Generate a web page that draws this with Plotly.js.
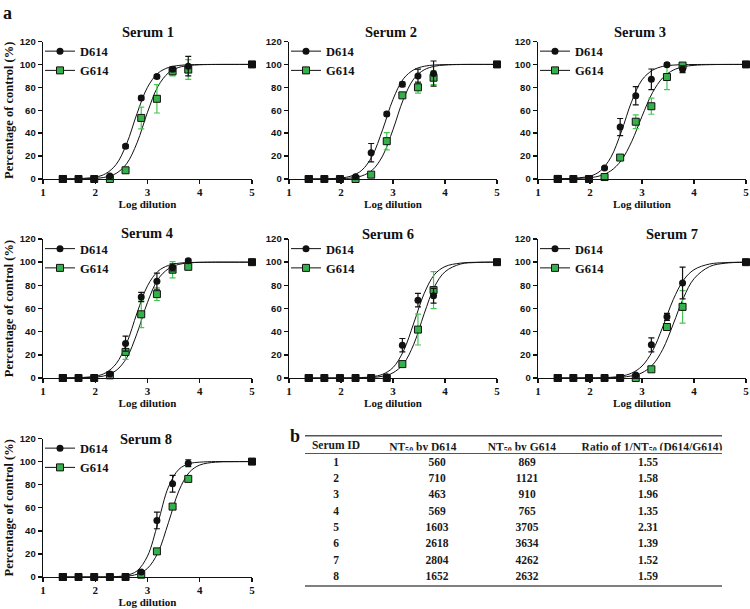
<!DOCTYPE html>
<html><head><meta charset="utf-8">
<script src="https://cdn.plot.ly/plotly-3.0.1.min.js"></script>
<style>html,body{margin:0;padding:0;background:#fff}#chart{width:750px;height:609px}</style>
</head><body><div id="chart"></div>
<script>
// ---------------- DATA ----------------
const SERUM_NAMES = ['Serum 1','Serum 2','Serum 3','Serum 4','Serum 6','Serum 7','Serum 8'];
const SERIES_NAMES = ['D614','G614'];
const LOG_DILUTION = [1.38,1.68,1.98,2.28,2.58,2.88,3.18,3.48,3.78,5];
const FIT_X = [1.38,2.0,2.2,2.4,2.6,2.8,3.0,3.2,3.4,3.6,3.8,4.0,4.3,4.6,5.0];

const S1_D614 = [0,0,0,2.6,28.5,70.8,89.4,95.8,98.5,100];
const S1_D614_ERR = [0,0,0,0.5,1.5,1.5,1.5,2,8.5,0];
const S1_G614 = [0,0,0,0,7.6,53.3,70,94,95.5,100];
const S1_G614_ERR = [0,0,0,0,1,9.5,12.4,4,8.6,0];
const S1_D614_FIT = [0.05,1.6,4.7,12.7,30.6,57.2,80.1,92.3,97.3,99.1,99.7,99.9,100,100,100];
const S1_G614_FIT = [0.02,0.6,1.7,4.9,13.3,31.6,58.3,80.8,92.6,97.4,99.1,99.7,99.95,100,100];

const S2_D614 = [0,0,0,2,23,56.8,82.6,89.9,92,100];
const S2_D614_ERR = [0,0,0,0.5,8,1.5,2,6,11,0];
const S2_G614 = [0,0,0,0,3.8,33,73,80,88.4,100];
const S2_G614_ERR = [0,0,0,0,0.8,7.5,2,5,6,0];
const S2_D614_FIT = [0,0.9,2.7,7.6,20.0,43.0,69.5,87.4,95.3,98.4,99.5,99.8,100,100,100];
const S2_G614_FIT = [0,0.3,0.9,2.7,7.7,20.1,43.1,69.6,87.4,95.3,98.4,99.5,99.9,100,100];

const S3_D614 = [0,0,0,9.5,45.3,72.7,87,99.8,95.8,100];
const S3_D614_ERR = [0,0,0,1,7.5,8,9,1.5,3,0];
const S3_G614 = [0,0,0,1.7,18.7,50,63.5,89,99,100];
const S3_G614_ERR = [0,0,0,0.5,1,6,7,11,2,0];
const S3_D614_FIT = [0.1,2.5,7.1,18.8,40.9,67.5,86.5,94.8,98.3,99.4,99.8,99.9,100,100,100];
const S3_G614_FIT = [0.07,1.2,2.9,7.1,16.1,32.5,54.7,75.2,88.4,95.0,98.0,99.2,99.8,99.95,100];

const S4_D614 = [0,0,0,3.5,29.7,70,83.6,95.5,101.2,100];
const S4_D614_ERR = [0,0,0,1,6.5,4,7,3,1.5,0];
const S4_G614 = [0,0,0,2.3,22.5,55,72.4,93.5,96,100];
const S4_G614_ERR = [0,0,0,1,6.5,11.5,5.5,7,2,0];
const S4_D614_FIT = [0.05,1.5,4.5,12.3,29.8,56.2,79.6,92.1,97.2,99.1,99.7,99.9,100,100,100];
const S4_G614_FIT = [0,0.8,2.2,6.5,17.2,38.6,65.3,85.2,94.3,98.1,99.4,99.8,100,100,100];

const S6_D614 = [0,0,0,0,0,1,28.3,67.2,71,100];
const S6_D614_ERR = [0,0,0,0,0,0.5,5.8,5.8,6.3,0];
const S6_G614 = [0,0,0,0,0,0,12,41.8,75.9,100];
const S6_G614_ERR = [0,0,0,0,0,0,1.5,13.3,16,0];
const S6_D614_FIT = [0,0,0.1,0.4,1.1,3.2,9.0,23.1,47.5,73.0,89.4,96.2,99.2,99.9,100];
const S6_G614_FIT = [0,0.02,0.05,0.16,0.5,1.5,4.5,12.1,29.2,55.5,79.0,91.7,98.4,99.7,100];

const S7_D614 = [0,0,0,0,0,2.6,28.6,52.8,82,100];
const S7_D614_ERR = [0,0,0,0,0,0.5,6,3,13.7,0];
const S7_G614 = [0,0,0,0,0,0,7.5,44,61.4,100];
const S7_G614_ERR = [0,0,0,0,0,0,1,3,14,0];
const S7_D614_FIT = [0,0.1,0.2,0.6,1.6,4.2,10.3,23.1,44.2,67.6,84.6,93.5,98.4,99.6,100];
const S7_G614_FIT = [0,0.04,0.1,0.3,0.7,1.8,4.5,11.1,24.8,46.4,69.4,85.7,96.2,99.1,99.9];

const S8_D614 = [0,0,0,0,0,4.3,49,80.8,98.6,100];
const S8_D614_ERR = [0,0,0,0,0,1,7.2,7.2,3,0];
const S8_G614 = [0,0,0,0,0,2,22.2,61,85,100];
const S8_G614_ERR = [0,0,0,0,0,0.5,1.5,2,2,0];
const S8_D614_FIT = [0,0.02,0.09,0.35,1.4,5.3,18.1,46.9,77.9,93.3,98.2,99.5,100,100,100];
const S8_G614_FIT = [0,0.05,0.05,0.2,0.7,2.4,7.5,21.1,47.0,74.6,90.7,97.0,99.5,99.9,100];

const X_TICKS = [1,2,3,4,5];
const Y_TICKS = [0,20,40,60,80,100,120];
const X_TITLE = 'Log dilution';
const Y_TITLE = 'Percentage of control (%)';

const TABLE_HEADER = ['Serum ID','NT<sub>50</sub> by D614','NT<sub>50</sub> by G614','Ratio of 1/NT<sub>50</sub> (D614/G614)'];
const TABLE_SERUM_ID = ['1','2','3','4','5','6','7','8'];
const TABLE_NT50_D614 = ['560','710','463','569','1603','2618','2804','1652'];
const TABLE_NT50_G614 = ['869','1121','910','765','3705','3634','4262','2632'];
const TABLE_RATIO = ['1.55','1.58','1.96','1.35','2.31','1.39','1.52','1.59'];

// ---------------- LAYOUT / STYLE ----------------
const W = 750, H = 609;
const BLACK = '#111111';
const GREEN = '#35b04a';
const GREEN_ERR = '#45c652';
const SERIF = 'Liberation Serif';
const SANS = 'Liberation Sans';

const PANELS = [
  {d:S1_D614, de:S1_D614_ERR, g:S1_G614, ge:S1_G614_ERR, df:S1_D614_FIT, gf:S1_G614_FIT},
  {d:S2_D614, de:S2_D614_ERR, g:S2_G614, ge:S2_G614_ERR, df:S2_D614_FIT, gf:S2_G614_FIT},
  {d:S3_D614, de:S3_D614_ERR, g:S3_G614, ge:S3_G614_ERR, df:S3_D614_FIT, gf:S3_G614_FIT},
  {d:S4_D614, de:S4_D614_ERR, g:S4_G614, ge:S4_G614_ERR, df:S4_D614_FIT, gf:S4_G614_FIT},
  {d:S6_D614, de:S6_D614_ERR, g:S6_G614, ge:S6_G614_ERR, df:S6_D614_FIT, gf:S6_G614_FIT},
  {d:S7_D614, de:S7_D614_ERR, g:S7_G614, ge:S7_G614_ERR, df:S7_D614_FIT, gf:S7_G614_FIT},
  {d:S8_D614, de:S8_D614_ERR, g:S8_G614, ge:S8_G614_ERR, df:S8_D614_FIT, gf:S8_G614_FIT}
];

const COLS = [[43,252],[289,497],[538,746]];
const ROWS = [[41.5,179],[239,378],[438.5,577]];
const GRID = [[0,0],[0,1],[0,2],[1,0],[1,1],[1,2],[2,0]];
const TITLE_POS = [[147.5,32],[391,32],[640,32],[147,233],[388,234],[672,234],[146,439]];

const fx = p => p / W;
const fy = p => 1 - p / H;
const nb = s => s.replace(/ /g, '\u00a0');

const data = [];
const layout = {
  width: W, height: H,
  margin: {l:0, r:0, t:0, b:0},
  paper_bgcolor: '#ffffff', plot_bgcolor: '#ffffff',
  showlegend: true,
  annotations: [], shapes: []
};

PANELS.forEach((p, i) => {
  const s = i === 0 ? '' : String(i + 1);
  const xa = 'x' + s, ya = 'y' + s;
  const lg = 'legend' + s;
  const [r, c] = GRID[i];
  const col = COLS[c], row = ROWS[r];

  const firstOnly = FIT_X.map((_, k) => k === 0);
  // fitted curves (also carry the legend symbol: line + marker)
  data.push({
    type:'scatter', x: FIT_X, y: p.df, xaxis: xa, yaxis: ya, legend: lg,
    name: SERIES_NAMES[0], mode:'lines+markers', cliponaxis:false,
    line:{color:BLACK, width:1, shape:'spline', smoothing:1},
    marker:{symbol:'circle', size:7, color: firstOnly.map(v => v ? BLACK : 'rgba(0,0,0,0)'),
            line:{width:0}},
    hoverinfo:'skip'
  });
  data.push({
    type:'scatter', x: FIT_X, y: p.gf, xaxis: xa, yaxis: ya, legend: lg,
    name: SERIES_NAMES[1], mode:'lines+markers', cliponaxis:false,
    line:{color:BLACK, width:1, shape:'spline', smoothing:1},
    marker:{symbol:'square', size:7, color: firstOnly.map(v => v ? GREEN : 'rgba(0,0,0,0)'),
            line:{width:1, color: firstOnly.map(v => v ? BLACK : 'rgba(0,0,0,0)')}},
    hoverinfo:'skip'
  });
  // G614 data points (black where they coincide with D614)
  data.push({
    type:'scatter', x: LOG_DILUTION, y: p.g, xaxis: xa, yaxis: ya, legend: lg,
    name: SERIES_NAMES[1], mode:'markers', showlegend:false, cliponaxis:false,
    marker:{symbol:'square', size:7,
            color: p.g.map((v, k) => Math.abs(v - p.d[k]) <= 1 ? BLACK : GREEN),
            line:{width:1, color:BLACK}},
    error_y:{type:'data', array: p.ge, visible:true, color:GREEN_ERR, thickness:1.2, width:3}
  });
  // D614 data points
  data.push({
    type:'scatter', x: LOG_DILUTION, y: p.d, xaxis: xa, yaxis: ya, legend: lg,
    name: SERIES_NAMES[0], mode:'markers', showlegend:false, cliponaxis:false,
    marker:{symbol:'circle', size:7, color:BLACK, line:{width:0}},
    error_y:{type:'data', array: p.de, visible:true, color:BLACK, thickness:1.2, width:3}
  });

  layout['xaxis' + s] = {
    domain:[fx(col[0]), fx(col[1])], range:[1,5], anchor: ya,
    showline:true, linecolor:BLACK, linewidth:1.4, mirror:false,
    ticks:'outside', ticklen:4, tickwidth:1.4, tickcolor:BLACK,
    tickvals: X_TICKS, ticktext: X_TICKS.map(String), ticklabelstandoff:-2,
    tickfont:{family:SERIF, size:11, color:BLACK, weight:700},
    showgrid:false, zeroline:false, fixedrange:true,
    title:{text: X_TITLE, font:{family:SERIF, size:11, color:BLACK, weight:700}, standoff:0}
  };
  const yax = {
    domain:[fy(row[1]), fy(row[0])], range:[0,120], anchor: xa,
    showline:true, linecolor:BLACK, linewidth:1.4,
    ticks:'outside', ticklen:4, tickwidth:1.4, tickcolor:BLACK,
    tickvals: Y_TICKS, ticktext: Y_TICKS.map(String),
    tickfont:{family:SANS, size:9.5, color:BLACK, weight:700},
    showgrid:false, zeroline:false, fixedrange:true
  };
  if (c === 0) yax.title = {text: Y_TITLE, font:{family:SERIF, size:12.5, color:BLACK, weight:700}, standoff:3};
  layout['yaxis' + s] = yax;
  layout[lg] = {
    x: fx(col[0] - 3), y: fy(row[0] - 5), xanchor:'left', yanchor:'top',
    bgcolor:'rgba(0,0,0,0)', borderwidth:0, tracegroupgap:0,
    font:{family:SERIF, size:12.5, color:BLACK, weight:700}
  };
  layout.annotations.push({
    text: SERUM_NAMES[i], xref:'paper', yref:'paper',
    x: fx(TITLE_POS[i][0]), y: fy(TITLE_POS[i][1]), xanchor:'center', yanchor:'middle',
    showarrow:false, font:{family:SERIF, size:14.5, color:BLACK, weight:700}
  });
});

// panel letters
layout.annotations.push({text:'a', xref:'paper', yref:'paper', x: fx(1), y: fy(13), xanchor:'left', yanchor:'middle',
  showarrow:false, font:{family:SERIF, size:18, color:BLACK, weight:700}});
layout.annotations.push({text:'b', xref:'paper', yref:'paper', x: fx(288), y: fy(436), xanchor:'left', yanchor:'middle',
  showarrow:false, font:{family:SERIF, size:18, color:BLACK, weight:700}});

// table (b): body table (first data row in its header slot) and a header-only table
const TFONT = {family:SERIF, size:11.5, color:'#1a1a1a', weight:700};
const NONE = {width:0, color:'rgba(0,0,0,0)'};
const CLEAR = {color:'rgba(0,0,0,0)'};
const BODY = [TABLE_SERUM_ID, TABLE_NT50_D614, TABLE_NT50_G614, TABLE_RATIO];
data.push({
  type:'table',
  domain:{x:[fx(305), fx(749)], y:[fy(592), fy(449.2)]},
  columnwidth:[62,140,40,202],
  header:{values: BODY.map(a => a[0]), height:16.3, align:'center', fill:CLEAR, line:NONE, font:TFONT},
  cells:{values: BODY.map(a => a.slice(1)), height:16.3, align:'center', fill:CLEAR, line:NONE, font:TFONT}
});
data.push({
  type:'table',
  domain:{x:[fx(305), fx(739)], y:[fy(451), fy(432.5)]},
  columnwidth:[62,112,86,174],
  header:{values: TABLE_HEADER.map(nb), height:17, align:'center', fill:CLEAR, line:NONE, font:TFONT},
  cells:{values:[[],[],[],[]], height:16.3, fill:CLEAR, line:NONE}
});

// booktabs rules
[[435.7,1.4],[453.5,1.0],[586,1.4]].forEach(([py, w]) => {
  layout.shapes.push({type:'line', xref:'paper', yref:'paper', x0: fx(305), x1: fx(722), y0: fy(py), y1: fy(py),
    line:{color:'#555555', width:w}});
});

Plotly.newPlot('chart', data, layout, {displayModeBar:false, staticPlot:true});
</script>
</body></html>
